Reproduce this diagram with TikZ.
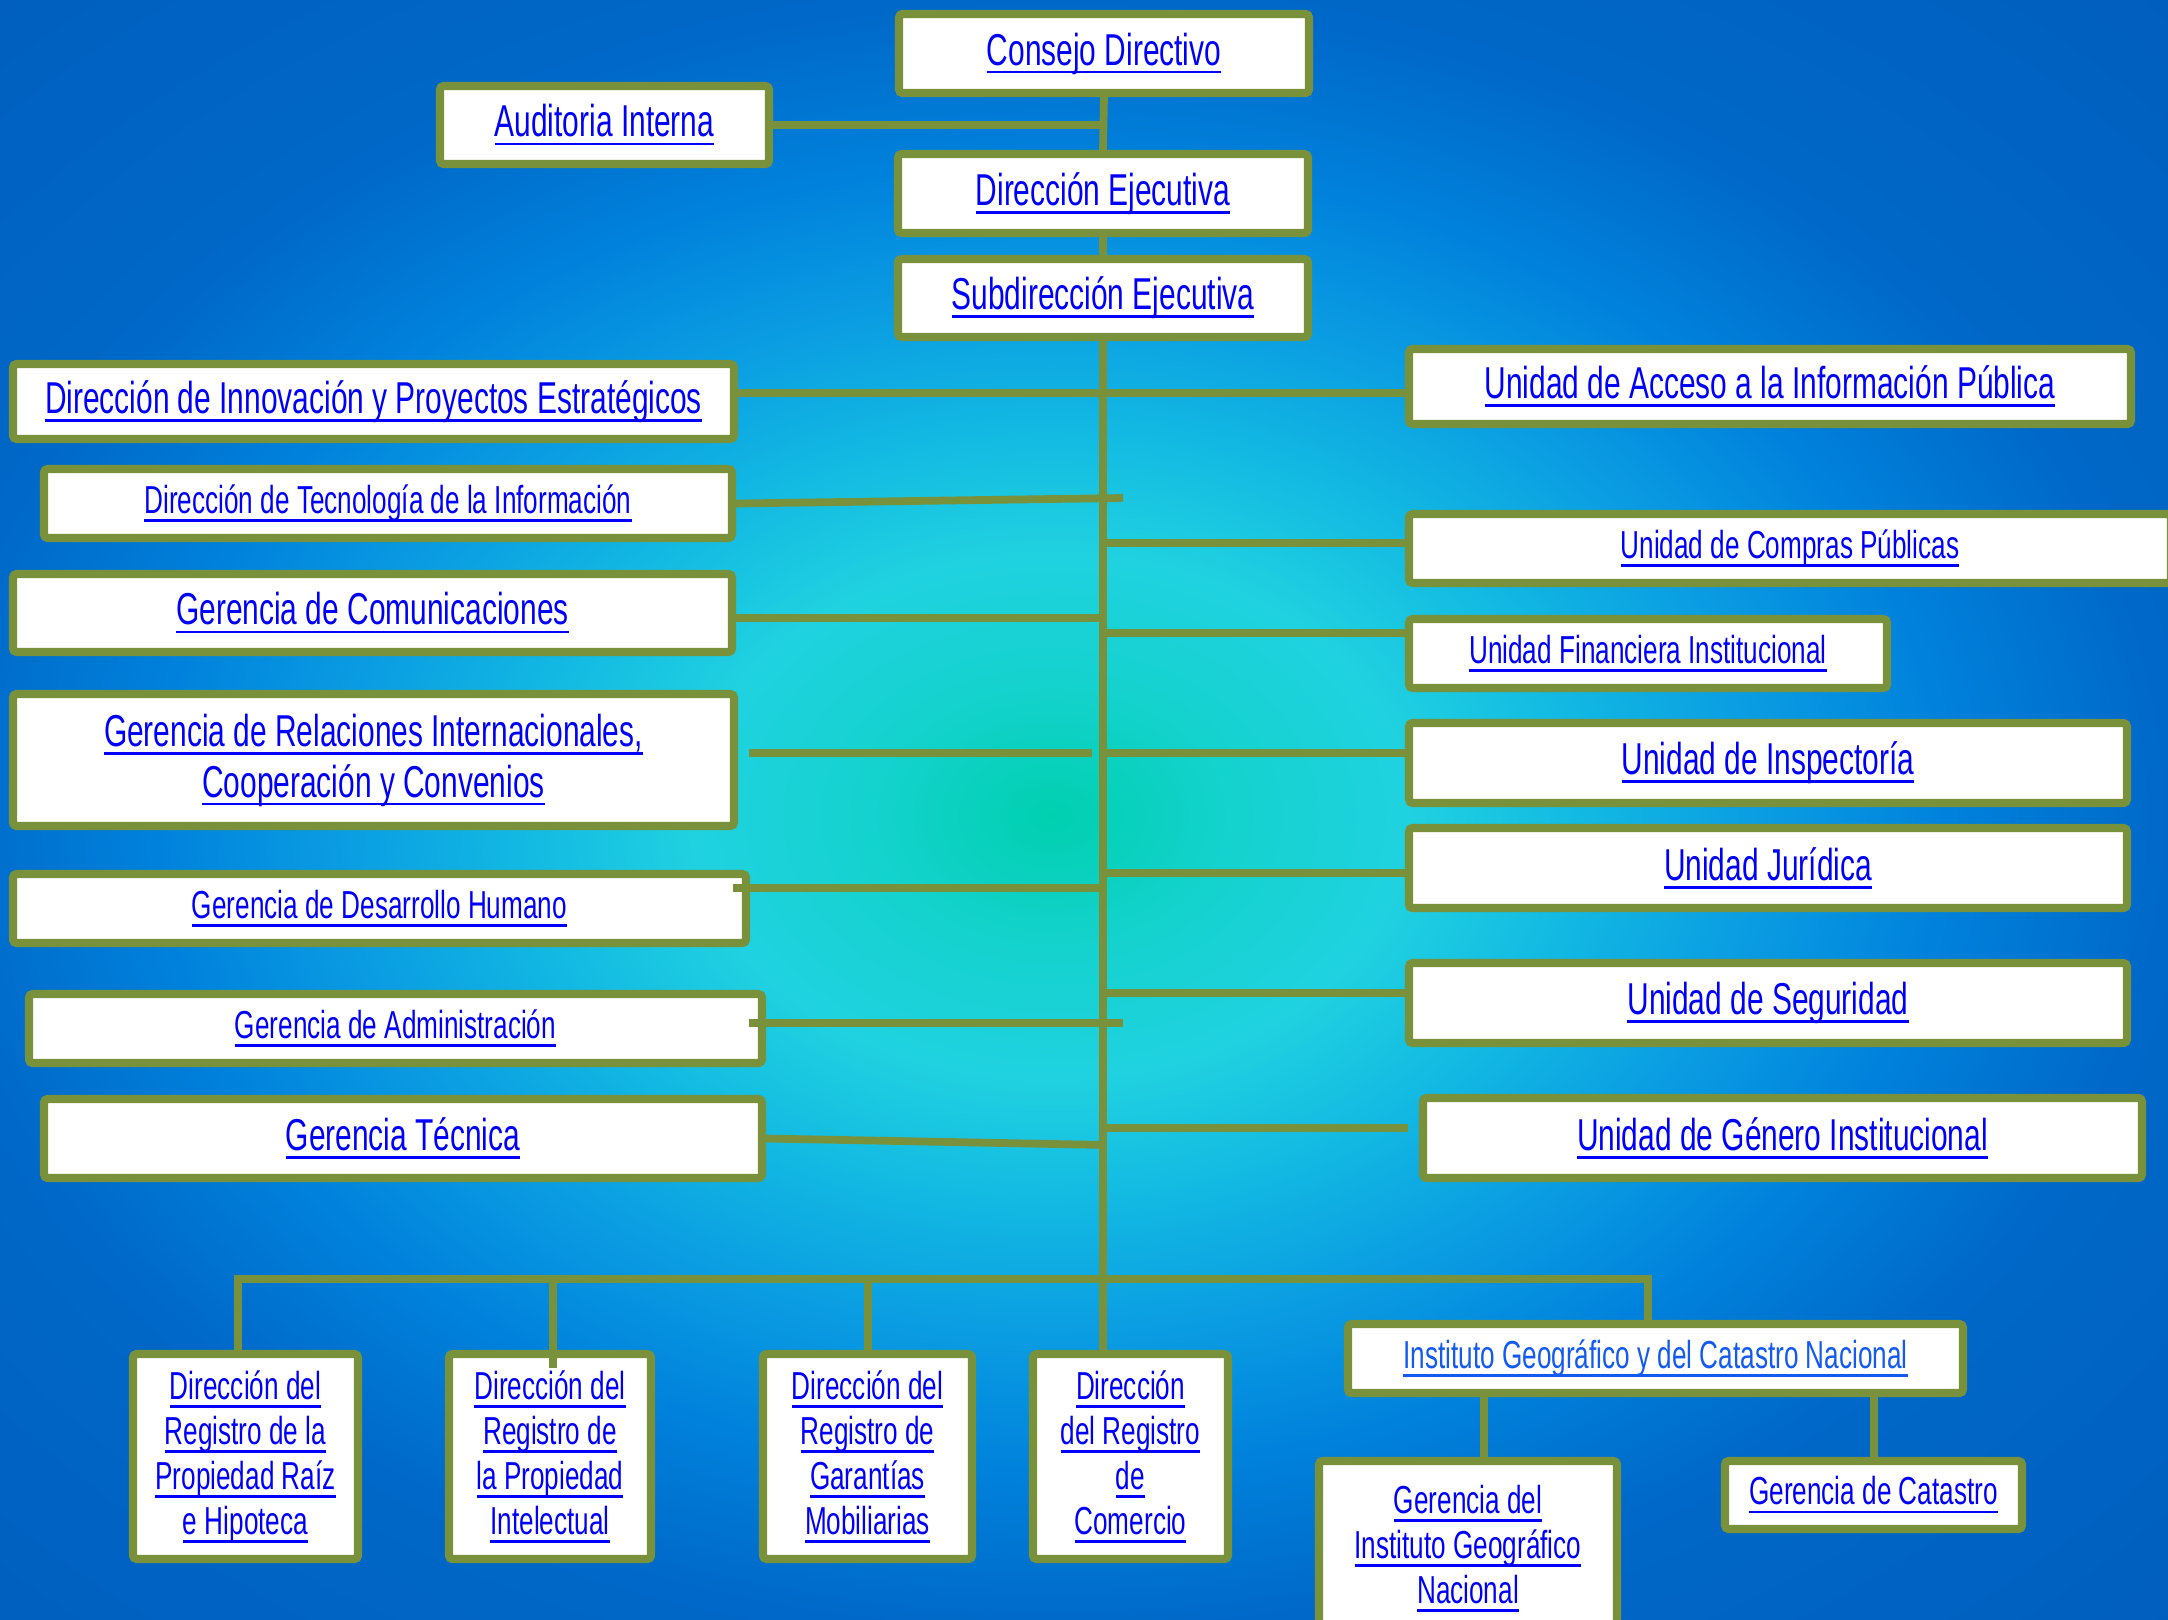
\documentclass[tikz,border=0pt]{standalone}
\usepackage{fontspec}
\setmainfont{Liberation Sans}[FakeStretch=0.67]
\definecolor{olv}{RGB}{122,145,60}
\definecolor{lnk}{RGB}{0,0,250}
\definecolor{lnkb}{RGB}{20,90,240}
\definecolor{gA}{RGB}{0,208,176}
\definecolor{gB}{RGB}{20,210,205}
\definecolor{gC}{RGB}{32,210,224}
\definecolor{gD}{RGB}{18,184,226}
\definecolor{gE}{RGB}{10,156,226}
\definecolor{gF}{RGB}{0,130,220}
\definecolor{gG}{RGB}{0,104,200}
\definecolor{gH}{RGB}{0,80,176}
\pgfdeclareradialshading{bgshade}{\pgfpoint{0bp}{0bp}}{color(0bp)=(gA); color(4bp)=(gB); color(8bp)=(gC); color(12bp)=(gD); color(16bp)=(gE); color(20bp)=(gF); color(25bp)=(gG); color(50bp)=(gH)}
\newsavebox\ulbox
\newcommand\ulx[1]{\leavevmode\sbox\ulbox{#1}\rlap{\rule[-2.4pt]{\wd\ulbox}{0.8pt}}\usebox\ulbox}
\newcommand\fbig{\fontsize{12.7pt}{14.5pt}\selectfont}
\newcommand\fsml{\fontsize{11.1pt}{12.8pt}\selectfont}
\tikzset{
  bx/.style={draw=olv, line width=2.3pt, fill=white, inner sep=0pt, align=center, text=lnk, rounded corners=1pt},
  big/.style={bx, font=\fbig},
  sml/.style={bx, font=\fsml},
  ob/.style n args={4}{at={(0.5*#1+0.5*#3,0.5*#2+0.5*#4)}, minimum width={(#3-#1-8)*0.01cm}, minimum height={(#4-#2-8)*0.01cm}},
  conn/.style={draw=olv, line width=2.2pt}
}
\begin{document}
\begin{tikzpicture}[x=0.01cm,y=-0.01cm]
\useasboundingbox (0,0) rectangle (2168,1620);
\clip (0,0) rectangle (2168,1620);
\shade[shading=bgshade] (-66,0) rectangle (2168,1632);

% top chain
\node[big, ob={895}{10}{1313}{97}] (consejo) {\ulx{Consejo Directivo}};
\node[big, ob={436}{82}{773}{168}] (auditoria) {\ulx{Auditoria Interna}};
\node[big, ob={894}{150}{1312}{237}] (direjec) {\ulx{Dirección Ejecutiva}};
\node[big, ob={894}{255}{1312}{341}] (subdir) {\ulx{Subdirección Ejecutiva}};

% left column
\node[big, ob={9}{360}{738}{443}] (innov) {\ulx{Dirección de Innovación y Proyectos Estratégicos}};
\node[sml, ob={40}{465}{736}{542}] (tecno) {\ulx{Dirección de Tecnología de la Información}};
\node[big, ob={9}{570}{736}{656}] (comun) {\ulx{Gerencia de Comunicaciones}};
\node[big, ob={9}{690}{738}{830}] (relac) {\ulx{Gerencia de Relaciones Internacionales,}\\\ulx{Cooperación y Convenios}};
\node[sml, ob={9}{870}{750}{947}] (desarr) {\ulx{Gerencia de Desarrollo Humano}};
\node[sml, ob={25}{990}{766}{1067}] (admin) {\ulx{Gerencia de Administración}};
\node[big, ob={40}{1095}{766}{1182}] (tecnica) {\ulx{Gerencia Técnica}};

% right column
\node[big, ob={1405}{345}{2135}{428}] (acceso) {\ulx{Unidad de Acceso a la Información Pública}};
\node[sml, ob={1405}{510}{2175}{587}] (compras) {\ulx{Unidad de Compras Públicas}};
\node[sml, ob={1405}{615}{1891}{692}] (financ) {\ulx{Unidad Financiera Institucional}};
\node[big, ob={1405}{719}{2131}{807}] (inspec) {\ulx{Unidad de Inspectoría}};
\node[big, ob={1405}{824}{2131}{912}] (juridica) {\ulx{Unidad Jurídica}};
\node[big, ob={1405}{959}{2131}{1047}] (segur) {\ulx{Unidad de Seguridad}};
\node[big, ob={1419}{1094}{2146}{1182}] (genero) {\ulx{Unidad de Género Institucional}};

% bottom row
\node[sml, ob={129}{1350}{362}{1563}] (regprop) {\ulx{Dirección del}\\\ulx{Registro de la}\\\ulx{Propiedad Raíz}\\\ulx{e Hipoteca}};
\node[sml, ob={445}{1350}{655}{1563}] (regint) {\ulx{Dirección del}\\\ulx{Registro de}\\\ulx{la Propiedad}\\\ulx{Intelectual}};
\node[sml, ob={759}{1350}{976}{1563}] (reggar) {\ulx{Dirección del}\\\ulx{Registro de}\\\ulx{Garantías}\\\ulx{Mobiliarias}};
\node[sml, ob={1029}{1350}{1232}{1563}] (regcom) {\ulx{Dirección}\\\ulx{del Registro}\\\ulx{de}\\\ulx{Comercio}};
\node[sml, text=lnkb, ob={1344}{1320}{1967}{1397}] (instituto) {\ulx{Instituto Geográfico y del Catastro Nacional}};
\node[sml, ob={1315}{1457}{1621}{1640}] (gerinst) {\ulx{Gerencia del}\\\ulx{Instituto Geográfico}\\\ulx{Nacional}};
\node[sml, ob={1721}{1457}{2026}{1533}] (catastro) {\ulx{Gerencia de Catastro}};

% connector levels and free ends
\path (0,393) coordinate (yA) (0,543) coordinate (yB) (0,618) coordinate (yC)
      (0,633) coordinate (yD) (0,753) coordinate (yE) (0,873) coordinate (yF)
      (0,993) coordinate (yH);
\coordinate (tecEnd) at (1123,498);
\coordinate (relA) at (749,753);
\coordinate (relB) at (1092,753);
\coordinate (desA) at (733,888);
\coordinate (admA) at (749,1023);
\coordinate (admB) at (1123,1023);
\coordinate (tecnEnd) at (1107,1145);
\coordinate (genEnd) at (1408,1128);
\coordinate (b1) at (238,1279);
\coordinate (b2) at (553,1279);
\coordinate (b2e) at (553,1368);
\coordinate (b3) at (868,1279);
\coordinate (b4) at (1648,1279);
\coordinate (i1) at (1484,0);
\coordinate (i2) at (1874,0);

% connectors
\draw[conn] (consejo.south) -- (direjec.north);
\draw[conn] (auditoria.east) -- (auditoria.east -| consejo.south);
\draw[conn] (direjec.south) -- (subdir.north);
\draw[conn] (subdir.south) -- (subdir.south |- regcom.north);
\draw[conn] (innov.east |- yA) -- (acceso.west |- yA);
\draw[conn] (tecno.east) -- (tecEnd);
\draw[conn] (comun.east |- yC) -- (subdir.south |- yC);
\draw[conn] (subdir.south |- yB) -- (compras.west |- yB);
\draw[conn] (subdir.south |- yD) -- (financ.west |- yD);
\draw[conn] (relA) -- (relB);
\draw[conn] (subdir.south |- yE) -- (inspec.west |- yE);
\draw[conn] (desA) -- (subdir.south |- desA);
\draw[conn] (subdir.south |- yF) -- (juridica.west |- yF);
\draw[conn] (admA) -- (admB);
\draw[conn] (subdir.south |- yH) -- (segur.west |- yH);
\draw[conn] (tecnica.east) -- (tecnEnd);
\draw[conn] (subdir.south |- genEnd) -- (genEnd);
\draw[conn] (regprop.north -| b1) -- (b1) -- (b4) -- (b4 |- instituto.north);
\draw[conn] (b2) -- (b2e);
\draw[conn] (b3) -- (b3 |- reggar.north);
\draw[conn] (instituto.south -| i1) -- (gerinst.north -| i1);
\draw[conn] (instituto.south -| i2) -- (catastro.north -| i2);
\end{tikzpicture}
\end{document}
